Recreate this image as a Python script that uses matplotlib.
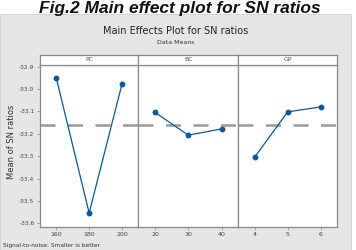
import matplotlib
matplotlib.use("Agg")
import matplotlib.pyplot as plt
from matplotlib.patches import Rectangle
import numpy as np

factors = ["PC", "BC", "GP"]
levels = [["160", "180", "200"], ["20", "30", "40"], ["4", "5", "6"]]
sn_means = [
    [-32.952, -33.554, -32.979],
    [-33.104, -33.206, -33.178],
    [-33.304, -33.102, -33.080],
]
yticks = [-32.9, -33.0, -33.1, -33.2, -33.3, -33.4, -33.5, -33.6]
grand_mean = float(np.mean([v for s in sn_means for v in s]))

W, H = 356, 250
fig = plt.figure(figsize=(W / 100, H / 100), dpi=100, facecolor="white")

def fx(px):
    return px / W

def fy(py):
    return 1 - py / H

# gray background panel
bg = Rectangle((0, 0), fx(351), fy(14), transform=fig.transFigure,
               facecolor="#e6e6e6", edgecolor="#cfcfcf", lw=0.6, zorder=-10)
fig.patches.append(bg)

fig.text(fx(180), fy(12.5), "Fig.2 Main effect plot for SN ratios", ha="center", va="baseline",
         fontsize=12.5, fontweight="bold", fontstyle="italic", family="Liberation Sans",
         color="#111111", zorder=5)
fig.text(fx(176), fy(31), "Main Effects Plot for SN ratios", ha="center", va="center",
         fontsize=7, color="#222222")
fig.text(fx(176), fy(43), "Data Means", ha="center", va="center", fontsize=4.5, color="#333333")
fig.text(fx(12), fy(142), "Mean of SN ratios", ha="center", va="center", rotation=90,
         fontsize=6, color="#333333")
fig.text(fx(3), fy(246), "Signal-to-noise: Smaller is better", ha="left", va="center",
         fontsize=4.2, color="#333333")

edges = [40, 138.3, 238.3, 337]
top_hdr, bot_hdr, bot_plot = 54.7, 64.7, 226.7
ylim_top = -32.9 + (66.7 - bot_hdr) / 224
ylim_bot = -33.6 - (bot_plot - 223.3) / 224

for i in range(3):
    x0, x1 = edges[i], edges[i + 1]
    ax = fig.add_axes([fx(x0), fy(bot_plot), fx(x1 - x0), fy(bot_hdr) - fy(bot_plot)])
    ax.set_zorder(1)
    ax.set_facecolor("white")
    xs = np.arange(len(levels[i]))
    ax.axhline(grand_mean, color="#999999", lw=1.8, dashes=(6, 5), zorder=1)
    ax.plot(xs, sn_means[i], color="#0a589e", lw=0.9, marker="o", ms=3.2, zorder=2)
    ax.set_xlim(-0.5, 2.5)
    ax.set_ylim(ylim_bot, ylim_top)
    ax.set_xticks(xs)
    ax.set_xticklabels(levels[i], fontsize=4.5, color="#444444")
    if i == 0:
        ax.set_yticks(yticks)
        ax.set_yticklabels([f"{t:.1f}" for t in yticks], fontsize=4.2, color="#444444")
    else:
        ax.set_yticks([])
    ax.tick_params(length=2, width=0.5, color="#888888", pad=2)
    for s in ax.spines.values():
        s.set_color("#8a8a8a")
        s.set_linewidth(0.9)
    hx = fig.add_axes([fx(x0), fy(bot_hdr), fx(x1 - x0), fy(top_hdr) - fy(bot_hdr)])
    hx.set_zorder(1)
    hx.set_facecolor("white")
    hx.set_xticks([])
    hx.set_yticks([])
    for s in hx.spines.values():
        s.set_color("#8a8a8a")
        s.set_linewidth(0.9)
    hx.text(0.5, 0.5, factors[i], ha="center", va="center", fontsize=4.5,
            color="#555555", transform=hx.transAxes)

fig.savefig("out.png", dpi=100, facecolor="white")
